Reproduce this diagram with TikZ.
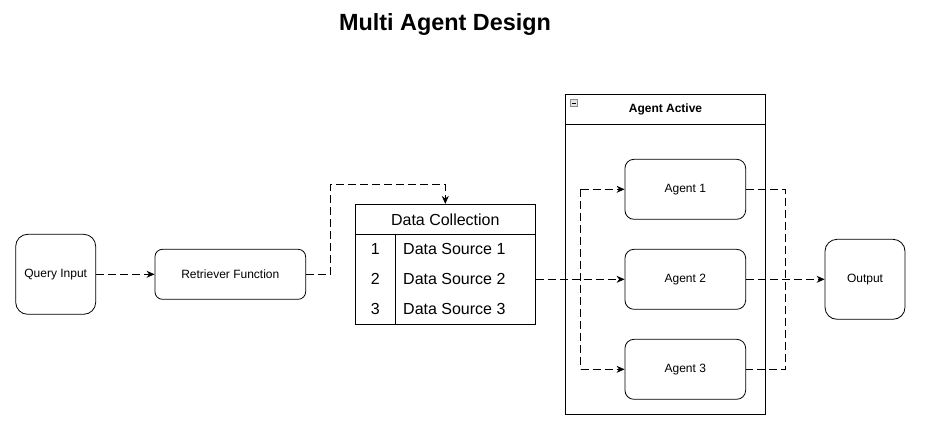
\documentclass[tikz,border=0pt]{standalone}
\usepackage{fontspec}
\setmainfont{Liberation Sans}
\usetikzlibrary{arrows.meta,positioning}
\tikzset{
  box/.style={draw=black, line width=0.8pt, inner sep=0pt, font=\fontsize{12}{14}\selectfont},
  conn/.style={line width=0.8pt, dash pattern=on 8pt off 4pt, -{Stealth[length=8pt,width=7pt]}},
  connnt/.style={line width=0.8pt, dash pattern=on 8pt off 4pt},
  cell/.style={inner sep=0pt, font=\fontsize{16}{18}\selectfont},
}
\begin{document}
\begin{tikzpicture}[x=1pt,y=-1pt]
\useasboundingbox (0,0) rectangle (925,447);
% title
\node[font=\bfseries\fontsize{23.4}{27}\selectfont] (title) at (445,24.5) {Multi Agent Design};
% left nodes
\node[box, rounded corners=12pt, minimum width=80pt, minimum height=80pt] (q) at (55.7,274.3) {Query Input};
\node[box, rounded corners=7.5pt, minimum width=150.7pt, minimum height=50pt] (r) at (230.3,274.3) {Retriever Function};
% data collection table
\node[draw, line width=0.8pt, minimum width=180.7pt, minimum height=120pt, inner sep=0pt] (dc) at (445.3,264.3) {};
\coordinate (hl) at (355,234.3);
\coordinate (hr) at (535.7,234.3);
\coordinate (ct) at (395.7,234.3);
\coordinate (cb) at (395.7,324.3);
\draw[line width=0.8pt] (hl) -- (hr);
\draw[line width=0.8pt] (ct) -- (cb);
\node[cell] (dch) at (445.3,219.3) {Data Collection};
\node[cell] (n1) at (375.3,249.3) {1};
\node[cell] (n2) at (375.3,279.3) {2};
\node[cell] (n3) at (375.3,309.3) {3};
\node[cell, anchor=west] (s1) at (403,249.3) {Data Source 1};
\node[cell, anchor=west] (s2) at (403,279.3) {Data Source 2};
\node[cell, anchor=west] (s3) at (403,309.3) {Data Source 3};
% agent active container
\node[draw, line width=0.8pt, minimum width=199.6pt, minimum height=319.7pt, inner sep=0pt] (aa) at (665.5,254.2) {};
\coordinate (aahl) at (565.7,124.3);
\coordinate (aahr) at (765.3,124.3);
\draw[line width=0.8pt] (aahl) -- (aahr);
\node[font=\bfseries\fontsize{12}{14}\selectfont] (aat) at (665.5,109.3) {Agent Active};
\node[draw=black!45, fill=black!10, line width=0.6pt, minimum size=7pt, inner sep=0pt] (icon) at (573.5,103) {};
\draw[line width=0.8pt] ([xshift=-2pt]icon.center) -- ([xshift=2pt]icon.center);
% agents
\node[box, rounded corners=9pt, minimum width=120.7pt, minimum height=60pt] (a1) at (685.3,189.3) {Agent 1};
\node[box, rounded corners=9pt, minimum width=120.7pt, minimum height=60pt] (a2) at (685.3,279.3) {Agent 2};
\node[box, rounded corners=9pt, minimum width=120.7pt, minimum height=60pt] (a3) at (685.3,369.3) {Agent 3};
% output
\node[box, rounded corners=12pt, minimum width=80pt, minimum height=80pt] (o) at (865,279.3) {Output};
% coordinates for routing
\coordinate (r1) at (330.7,274.3);
\coordinate (r2) at (330.7,184.3);
\coordinate (r3) at (445.3,184.3);
\coordinate (dcout) at (535.7,279.3);
\coordinate (sp) at (580.7,279.3);
\coordinate (sp1) at (580.7,189.3);
\coordinate (sp3) at (580.7,369.3);
\coordinate (m1) at (785.7,189.3);
\coordinate (m3) at (785.7,369.3);
\coordinate (m) at (785.7,279.3);
% connectors
\draw[conn] (q.east) -- (r.west);
\draw[conn] (r.east) -- (r1) -- (r2) -- (r3) -- (dc.north);
\draw[conn] (dcout) -- (a2.west);
\draw[conn] (sp1) -- (a1.west);
\draw[conn] (sp3) -- (a3.west);
\draw[connnt] (sp1) -- (sp3);
\draw[conn] (a2.east) -- (o.west);
\draw[connnt] (a1.east) -- (m1) -- (m3) -- (a3.east);
\end{tikzpicture}
\end{document}
